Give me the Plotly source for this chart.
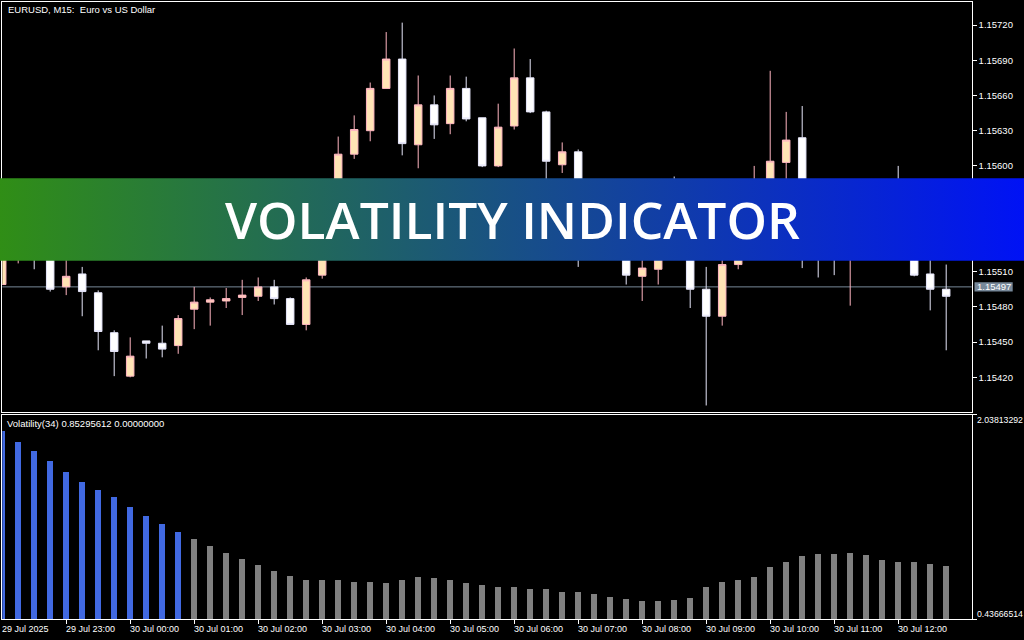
import plotly.graph_objects as go

# ---------------- data ----------------
bar_index = list(range(60))

opens = [1.15499, 1.15530, 1.15550, 1.15525, 1.15497, 1.15508, 1.15492, 1.15458, 1.15421, 1.15451,
         1.15449, 1.15447, 1.15478, 1.15484, 1.15485, 1.15488, 1.15489, 1.15497, 1.15487, 1.15465,
         1.15507, 1.15545, 1.15610, 1.15630, 1.15666, 1.15691, 1.15618, 1.15652, 1.15636, 1.15666,
         1.15641, 1.15600, 1.15634, 1.15675, 1.15646, 1.15601, 1.15612, 1.15545, 1.15535, 1.15550,
         1.15506, 1.15512, 1.15545, 1.15530, 1.15495, 1.15472, 1.15516, 1.15528, 1.15550, 1.15603,
         1.15624, 1.15560, 1.15540, 1.15530, 1.15548, 1.15560, 1.15550, 1.15540, 1.15508, 1.15495]
highs = [1.15540, 1.15562, 1.15565, 1.15535, 1.15530, 1.15514, 1.15494, 1.15460, 1.15454, 1.15451,
         1.15464, 1.15473, 1.15497, 1.15488, 1.15496, 1.15503, 1.15505, 1.15503, 1.15488, 1.15505,
         1.15550, 1.15625, 1.15643, 1.15671, 1.15714, 1.15722, 1.15677, 1.15660, 1.15677, 1.15676,
         1.15641, 1.15653, 1.15700, 1.15691, 1.15647, 1.15620, 1.15614, 1.15555, 1.15560, 1.15565,
         1.15530, 1.15552, 1.15591, 1.15538, 1.15514, 1.15525, 1.15535, 1.15600, 1.15681, 1.15646,
         1.15651, 1.15575, 1.15560, 1.15565, 1.15572, 1.15575, 1.15600, 1.15548, 1.15530, 1.15516]
lows = [1.15499, 1.15517, 1.15512, 1.15493, 1.15490, 1.15472, 1.15443, 1.15421, 1.15420, 1.15436,
        1.15437, 1.15440, 1.15461, 1.15464, 1.15479, 1.15473, 1.15485, 1.15482, 1.15465, 1.15460,
        1.15504, 1.15540, 1.15606, 1.15621, 1.15666, 1.15609, 1.15598, 1.15623, 1.15627, 1.15638,
        1.15599, 1.15599, 1.15631, 1.15645, 1.15575, 1.15594, 1.15514, 1.15520, 1.15528, 1.15499,
        1.15485, 1.15499, 1.15525, 1.15479, 1.15396, 1.15464, 1.15512, 1.15520, 1.15540, 1.15580,
        1.15513, 1.15505, 1.15507, 1.15481, 1.15540, 1.15540, 1.15530, 1.15506, 1.15477, 1.15443]
closes = [1.15530, 1.15550, 1.15525, 1.15495, 1.15506, 1.15493, 1.15459, 1.15442, 1.15438, 1.15449,
          1.15444, 1.15470, 1.15484, 1.15486, 1.15487, 1.15490, 1.15497, 1.15487, 1.15465, 1.15503,
          1.15545, 1.15610, 1.15631, 1.15666, 1.15691, 1.15619, 1.15652, 1.15635, 1.15666, 1.15640,
          1.15600, 1.15633, 1.15675, 1.15646, 1.15604, 1.15612, 1.15545, 1.15535, 1.15550, 1.15507,
          1.15513, 1.15545, 1.15530, 1.15495, 1.15472, 1.15516, 1.15528, 1.15550, 1.15604, 1.15622,
          1.15560, 1.15540, 1.15530, 1.15548, 1.15560, 1.15550, 1.15540, 1.15507, 1.15495, 1.15489]

volatility = [1.907, 1.828, 1.750, 1.679, 1.593, 1.514, 1.451, 1.396, 1.317, 1.247,
              1.184, 1.121, 1.066, 1.011, 0.956, 0.909, 0.861, 0.814, 0.775, 0.743,
              0.743, 0.743, 0.728, 0.728, 0.720, 0.743, 0.767, 0.759, 0.743, 0.720,
              0.704, 0.688, 0.688, 0.673, 0.673, 0.649, 0.649, 0.633, 0.610, 0.594,
              0.578, 0.578, 0.586, 0.602, 0.688, 0.728, 0.743, 0.767, 0.846, 0.885,
              0.932, 0.948, 0.948, 0.956, 0.940, 0.901, 0.885, 0.885, 0.869, 0.85295612]
n_high_vol = 12  # first bars drawn in blue

time_tick_pos = [0, 4, 8, 12, 16, 20, 24, 28, 32, 36, 40, 44, 48, 52, 56]
time_tick_text = ["29 Jul 2025", "29 Jul 23:00", "30 Jul 00:00", "30 Jul 01:00", "30 Jul 02:00",
                  "30 Jul 03:00", "30 Jul 04:00", "30 Jul 05:00", "30 Jul 06:00", "30 Jul 07:00",
                  "30 Jul 08:00", "30 Jul 09:00", "30 Jul 10:00", "30 Jul 11:00", "30 Jul 12:00"]
price_ticks = [1.15420, 1.15450, 1.15480, 1.15510, 1.15540, 1.15570, 1.15600,
               1.15630, 1.15660, 1.15690, 1.15720]
bid_price = 1.15497
vol_min, vol_max = 0.43666514, 2.03813292

# ---------------- geometry (pixels) ----------------
W, H = 1024, 640
PL, PR = 2.3, 971.7          # left/right of chart panels
MT, MB = 2.3, 411.7          # main panel top/bottom
IT, IB = 414.7, 619.2        # indicator panel top/bottom
BAR0, STEP = 2.2, 16.0       # pixel x of first bar, bar spacing
# price scale: two reference ticks at pixel rows
P_TOP_REF, Y_TOP_REF = 1.15720, 25.0
P_BOT_REF, Y_BOT_REF = 1.15420, 377.3
slope = (P_TOP_REF - P_BOT_REF) / (Y_BOT_REF - Y_TOP_REF)


def fx(px):
    return px / W


def fy(py):
    return 1 - py / H


def price_at(py):
    return P_TOP_REF - (py - Y_TOP_REF) * slope


x_range = [(PL - BAR0) / STEP, (PR - BAR0) / STEP]

FONT = "Liberation Sans"
BULL_LINE, BULL_FILL = "#FFB6C1", "#FFE4B5"
BEAR_LINE, BEAR_FILL = "#E6E6FA", "#FFFFFF"
BLUE, GRAY = "#4169E1", "#808080"
BID_COLOR = "#778899"

fig = go.Figure()

fig.add_trace(go.Candlestick(
    x=bar_index, open=opens, high=highs, low=lows, close=closes,
    increasing=dict(line=dict(color=BULL_LINE, width=1), fillcolor=BULL_FILL),
    decreasing=dict(line=dict(color=BEAR_LINE, width=1), fillcolor=BEAR_FILL),
    whiskerwidth=0, xaxis="x", yaxis="y", showlegend=False, hoverinfo="skip"))

bar_colors = [BLUE if i < n_high_vol else GRAY for i in range(len(volatility))]
fig.add_trace(go.Bar(
    x=bar_index, y=volatility, marker=dict(color=bar_colors, line=dict(width=0)),
    width=0.36, xaxis="x2", yaxis="y2", showlegend=False, hoverinfo="skip"))

# banner band with horizontal gradient (overlay pixel axes)
BAN_T, BAN_B = 178.3, 260.7
fig.add_trace(go.Scatter(
    x=[0, W, W, 0, 0], y=[BAN_T, BAN_T, BAN_B, BAN_B, BAN_T],
    fill="toself", mode="none",
    fillgradient=dict(type="horizontal",
                      colorscale=[[0, "rgb(48,142,22)"], [1, "rgb(0,18,245)"]]),
    xaxis="x3", yaxis="y3", showlegend=False, hoverinfo="skip"))

axis_common = dict(showline=True, mirror=True, linecolor="white", linewidth=1,
                   showgrid=False, zeroline=False, fixedrange=True)

fig.update_layout(
    width=W, height=H, margin=dict(l=0, r=0, t=0, b=0),
    paper_bgcolor="black", plot_bgcolor="rgba(0,0,0,0)", showlegend=False,
    boxgap=0.33, bargap=0,
    xaxis=dict(domain=[fx(PL), fx(PR)], range=x_range, anchor="y",
               showticklabels=False, ticks="", rangeslider=dict(visible=False),
               **axis_common),
    yaxis=dict(domain=[fy(MB), fy(MT)], range=[price_at(MB), price_at(MT)], anchor="x",
               side="right", tickvals=price_ticks, ticktext=[f"{v:.5f}" for v in price_ticks],
               ticks="outside", ticklen=4, tickcolor="white",
               tickfont=dict(family=FONT, size=9.5, color="white"), **axis_common),
    xaxis2=dict(domain=[fx(PL), fx(PR)], range=x_range, anchor="y2",
                tickvals=time_tick_pos, ticks="outside", ticklen=4, tickcolor="white",
                showticklabels=False, **axis_common),
    yaxis2=dict(domain=[fy(IB), fy(IT)], range=[vol_min, vol_max], anchor="x2", side="right",
                tickvals=[vol_min, vol_max], ticks="outside", ticklen=4, tickcolor="white",
                showticklabels=False, **axis_common),
    xaxis3=dict(domain=[0, 1], range=[0, W], visible=False, anchor="y3", fixedrange=True),
    yaxis3=dict(domain=[0, 1], range=[H, 0], visible=False, anchor="x3", fixedrange=True),
)

# bid line + price label
fig.add_shape(type="line", xref="x domain", yref="y", x0=0, x1=1, y0=bid_price, y1=bid_price,
              line=dict(color=BID_COLOR, width=1), layer="below")
half_h = 4.65 * slope
fig.add_shape(type="rect", xref="paper", yref="y", x0=fx(974.5), x1=fx(1012.7),
              y0=bid_price - half_h, y1=bid_price + half_h,
              fillcolor=BID_COLOR, line=dict(width=0), layer="above")

annotations = []
small = dict(family=FONT, size=9.5, color="white")
annotations.append(dict(text="EURUSD, M15:\u00a0 Euro vs US Dollar", xref="paper", yref="paper",
                        x=fx(6), y=fy(9.5), xanchor="left", yanchor="middle",
                        showarrow=False, font=small))
annotations.append(dict(text=f"Volatility(34) {volatility[-1]:.8f} 0.00000000", xref="paper",
                        yref="paper", x=fx(5), y=fy(423.5), xanchor="left", yanchor="middle",
                        showarrow=False, font=small))
for pos, txt in zip(time_tick_pos, time_tick_text):
    annotations.append(dict(text=txt, xref="paper", yref="paper", x=fx(BAR0 + STEP * pos),
                            y=fy(628.5), xanchor="left", yanchor="middle", xshift=-2,
                            showarrow=False, font=dict(family=FONT, size=9, color="white")))
annotations.append(dict(text=f"{vol_max:.8f}", xref="paper", yref="paper", x=fx(974.5),
                        y=fy(419.5), xanchor="left", yanchor="middle", showarrow=False,
                        font=dict(family=FONT, size=8.7, color="white")))
annotations.append(dict(text=f"{vol_min:.8f}", xref="paper", yref="paper", x=fx(974.5),
                        y=fy(613.5), xanchor="left", yanchor="middle", showarrow=False,
                        font=dict(family=FONT, size=8.7, color="white")))
annotations.append(dict(text=f"{bid_price:.5f}", xref="paper", yref="y", x=fx(975),
                        y=bid_price, xanchor="left", yanchor="middle", showarrow=False,
                        font=small))
annotations.append(dict(text="VOLATILITY INDICATOR", xref="paper", yref="paper", x=0.5,
                        y=fy(219), xanchor="center", yanchor="middle", showarrow=False,
                        font=dict(family="Open Sans", size=51.5, color="white", weight=600)))
fig.update_layout(annotations=annotations)

fig.write_html("out.html", config={"displayModeBar": False, "staticPlot": True},
               post_script="document.body.style.margin='0';"
                           "document.body.style.background='black';"
                           "document.body.style.overflow='hidden';")
